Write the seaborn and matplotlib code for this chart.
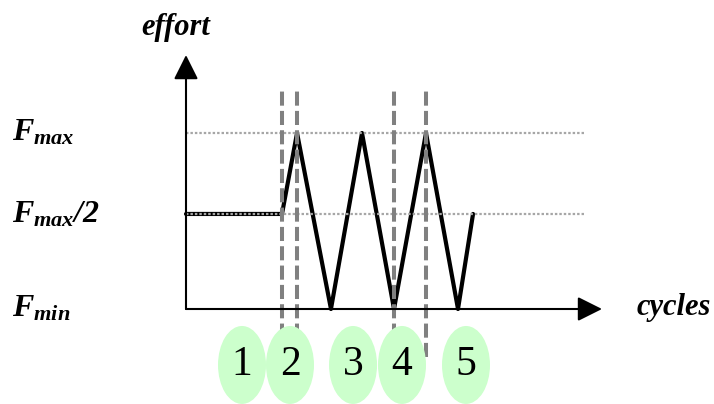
import matplotlib
matplotlib.use("Agg")
import matplotlib.pyplot as plt
import seaborn as sns
import pandas as pd
import numpy as np
from matplotlib.patches import Ellipse

sns.set_theme(style="white")
plt.rcParams['font.family'] = ['Liberation Serif', 'DejaVu Serif']
plt.rcParams['text.color'] = 'black'
plt.rcParams['mathtext.fontset'] = 'custom'
plt.rcParams['mathtext.it'] = 'Liberation Serif:italic:bold'
plt.rcParams['mathtext.rm'] = 'Liberation Serif:italic:bold'
plt.rcParams['mathtext.bf'] = 'Liberation Serif:italic:bold'

# ---- data ----
# effort signal (x in half-cycle units, y relative to Fmax)
signal_x = [0.0, 3.0, 3.47, 4.53, 5.5, 6.5, 7.5, 8.5, 8.97]
signal_y = [0.54, 0.54, 1.0, 0.0, 1.0, 0.0, 1.0, 0.0, 0.54]
level_values = [1.0, 0.54, 0.0]
level_labels = [r'$F_{max}$', r'$F_{max}/2$', r'$F_{min}$']
dashed_x = [3.0, 3.47, 6.5, 7.5]
cycle_labels = ['1', '2', '3', '4', '5']
cycle_centers = [1.75, 3.25, 5.22, 6.75, 8.75]

# ---- figure ----
fig = plt.figure(figsize=(7.14, 4.04), dpi=100)
ax = fig.add_axes([0, 0, 1, 1])
ax.set_xlim(-5.8125, 16.5)
ax.set_ylim(-0.5398, 1.7557)
ax.axis('off')

# signal
df = pd.DataFrame({'x': signal_x, 'y': signal_y})
sns.lineplot(data=df, x='x', y='y', ax=ax, color='black', lw=3.0,
             sort=False, estimator=None, zorder=3)

# dotted level lines (Fmax and Fmax/2)
for lv in level_values[:2]:
    sns.lineplot(x=[0, 12.5], y=[lv, lv], ax=ax, color='#a6a6a6', lw=1.6,
                 linestyle=(0, (1.1, 0.9)), zorder=4, estimator=None)

# dashed vertical markers
for dx in dashed_x:
    ax.plot([dx, dx], [-0.27, 1.26], color='#808080', lw=2.9,
            dashes=(3.5, 1.3), zorder=5)

# axes with arrows
ax.annotate('', xy=(0, 1.443), xytext=(0, 0),
            arrowprops=dict(arrowstyle='-|>,head_length=1.0,head_width=0.5',
                            mutation_scale=15, color='black', lw=1.5,
                            shrinkA=0, shrinkB=0), zorder=6)
ax.annotate('', xy=(13.0, 0), xytext=(0, 0),
            arrowprops=dict(arrowstyle='-|>,head_length=1.0,head_width=0.5',
                            mutation_scale=15, color='black', lw=1.5,
                            shrinkA=0, shrinkB=0), zorder=6)

# cycle ellipses
for cx, lab in zip(cycle_centers, cycle_labels):
    ax.add_patch(Ellipse((cx, -0.318), 1.5, 0.443, facecolor='#ccffcc',
                         edgecolor='none', zorder=7))
    ax.text(cx, -0.318, lab, fontsize=30, ha='center', va='center',
            fontfamily='Liberation Serif', color='black', zorder=8)

# level labels
baselines = [0.96, 0.494, -0.045]
for lab, by in zip(level_labels, baselines):
    ax.text(-5.44, by, lab, fontsize=23, ha='left', va='baseline',
            color='black')

# axis titles
ax.text(-0.31, 1.557, 'effort', fontsize=22, fontweight='bold',
        fontstyle='italic', ha='center', va='baseline', color='black')
ax.text(14.09, -0.034, 'cycles', fontsize=22, fontweight='bold',
        fontstyle='italic', ha='left', va='baseline', color='black')

fig.savefig('out.png', dpi=100)
